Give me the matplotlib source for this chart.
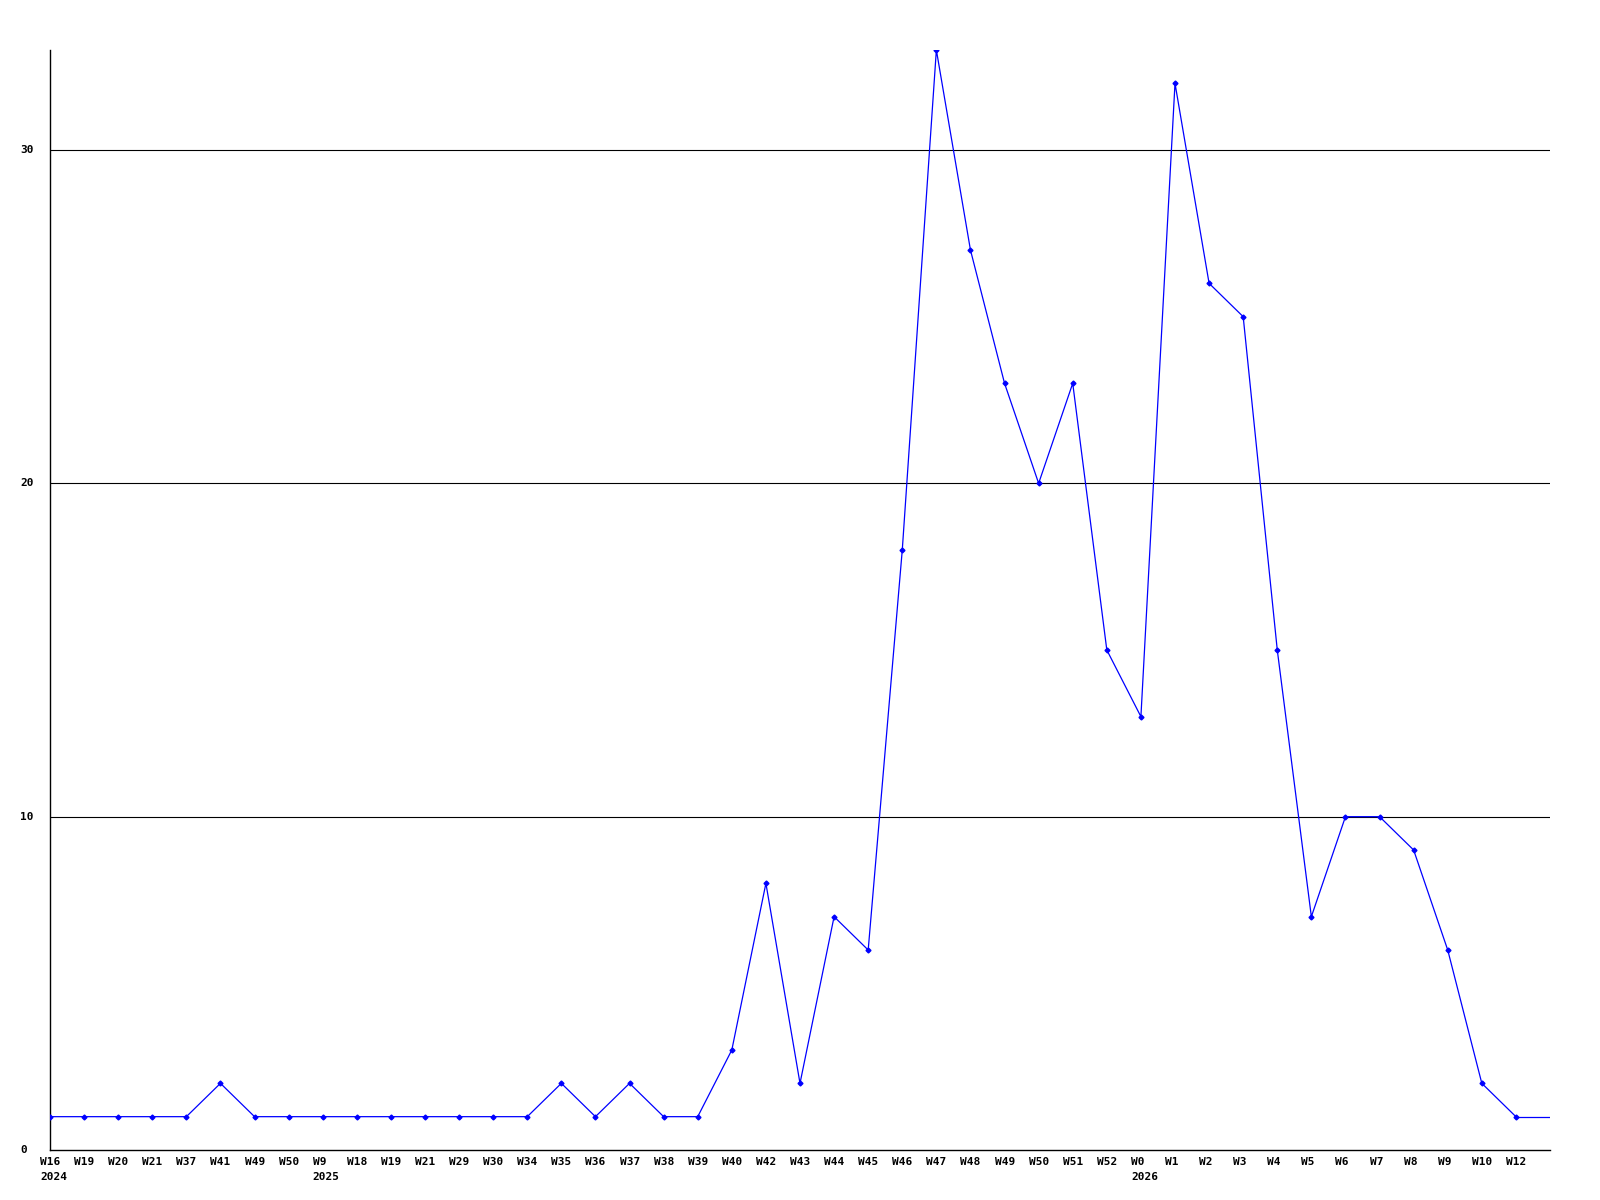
import matplotlib
matplotlib.use("Agg")
import matplotlib.pyplot as plt
from matplotlib.transforms import offset_copy, blended_transform_factory

week_labels = ["W16", "W19", "W20", "W21", "W37", "W41", "W49", "W50", "W9", "W18",
               "W19", "W21", "W29", "W30", "W34", "W35", "W36", "W37", "W38", "W39",
               "W40", "W42", "W43", "W44", "W45", "W46", "W47", "W48", "W49", "W50",
               "W51", "W52", "W0", "W1", "W2", "W3", "W4", "W5", "W6", "W7",
               "W8", "W9", "W10", "W12"]
year_labels = {0: "2024", 8: "2025", 32: "2026"}
values = [1, 1, 1, 1, 1, 2, 1, 1, 1, 1,
          1, 1, 1, 1, 1, 2, 1, 2, 1, 1,
          3, 8, 2, 7, 6, 18, 33, 27, 23, 20,
          23, 15, 13, 32, 26, 25, 15, 7, 10, 10,
          9, 6, 2, 1]
y_ticks = [0, 10, 20, 30]

fig = plt.figure(figsize=(16, 12), dpi=100)
ax = fig.add_axes([50/1600, 50/1200, 1500/1600, 1100/1200])
n = len(values)
x = list(range(n))
ax.set_xlim(0, n)
ax.set_ylim(0, 33)

for yv in y_ticks[1:]:
    ax.axhline(yv, color="black", linewidth=0.8, zorder=1)

ax.plot(x, values, color="#0000ff", linewidth=0.9, marker="D", markersize=2.5, zorder=3)
# line continues to the right edge at the last value
ax.plot([n - 1, n], [values[-1], values[-1]], color="#0000ff", linewidth=0.9, zorder=3)

for s in ["top", "right"]:
    ax.spines[s].set_visible(False)
for s in ["left", "bottom"]:
    ax.spines[s].set_linewidth(1.0)
    ax.spines[s].set_color("black")

ax.set_xticks([])
ax.set_yticks([])

font = dict(family="DejaVu Sans Mono", fontweight="bold", fontsize=8)
# y labels
ytrans = blended_transform_factory(fig.transFigure, ax.transData)
for yv in y_ticks:
    ax.text(20/1600, yv, str(yv), transform=ytrans, ha="left", va="center", **font)

# x labels
trans_x = ax.get_xaxis_transform()
for i, lab in enumerate(week_labels):
    t = offset_copy(trans_x, fig=fig, x=-10, y=-12, units="dots")
    ax.text(i, 0, lab, transform=t, ha="left", va="center", **font)
    if i in year_labels:
        t2 = offset_copy(trans_x, fig=fig, x=-10, y=-27, units="dots")
        ax.text(i, 0, year_labels[i], transform=t2, ha="left", va="center", **font)

fig.savefig("out.png", dpi=100, facecolor="white")
